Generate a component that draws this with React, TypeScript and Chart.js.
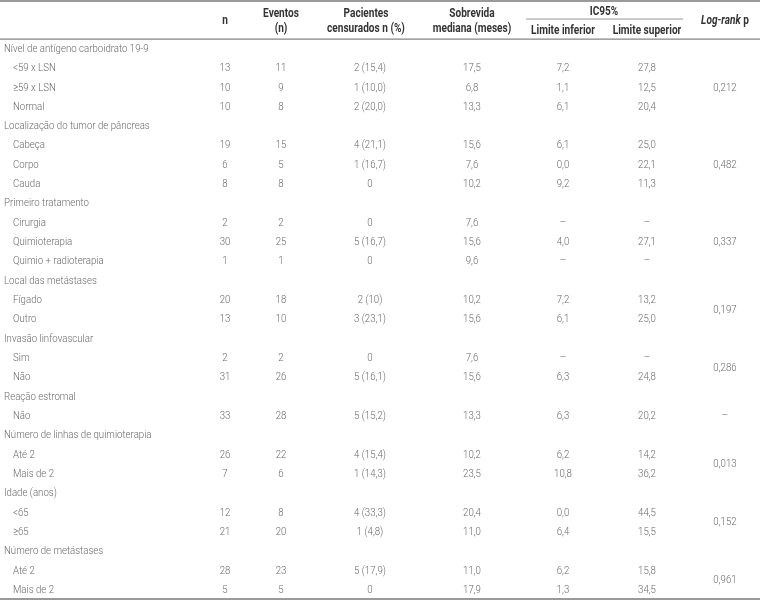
import { useEffect, useRef } from "react";
import { Chart, registerables } from "chart.js";

Chart.register(...registerables);

// ---------- data ----------
const rowLabels = [
  "Nível de antígeno carboidrato 19-9",
  "<59 x LSN",
  "≥59 x LSN",
  "Normal",
  "Localização do tumor de pâncreas",
  "Cabeça",
  "Corpo",
  "Cauda",
  "Primeiro tratamento",
  "Cirurgia",
  "Quimioterapia",
  "Quimio + radioterapia",
  "Local das metástases",
  "Fígado",
  "Outro",
  "Invasão linfovascular",
  "Sim",
  "Não",
  "Reação estromal",
  "Não",
  "Número de linhas de quimioterapia",
  "Até 2",
  "Mais de 2",
  "Idade (anos)",
  "<65",
  "≥65",
  "Número de metástases",
  "Até 2",
  "Mais de 2",
];
const rowIsGroup = [
  true, false, false, false,
  true, false, false, false,
  true, false, false, false,
  true, false, false,
  true, false, false,
  true, false,
  true, false, false,
  true, false, false,
  true, false, false,
];
const nValues = [null, 13, 10, 10, null, 19, 6, 8, null, 2, 30, 1, null, 20, 13, null, 2, 31, null, 33, null, 26, 7, null, 12, 21, null, 28, 5];
const eventosValues = [null, 11, 9, 8, null, 15, 5, 8, null, 2, 25, 1, null, 18, 10, null, 2, 26, null, 28, null, 22, 6, null, 8, 20, null, 23, 5];
const censuradosValues = [
  null, "2 (15,4)", "1 (10,0)", "2 (20,0)",
  null, "4 (21,1)", "1 (16,7)", "0",
  null, "0", "5 (16,7)", "0",
  null, "2 (10)", "3 (23,1)",
  null, "0", "5 (16,1)",
  null, "5 (15,2)",
  null, "4 (15,4)", "1 (14,3)",
  null, "4 (33,3)", "1 (4,8)",
  null, "5 (17,9)", "0",
];
const medianaValues = [null, 17.5, 6.8, 13.3, null, 15.6, 7.6, 10.2, null, 7.6, 15.6, 9.6, null, 10.2, 15.6, null, 7.6, 15.6, null, 13.3, null, 10.2, 23.5, null, 20.4, 11.0, null, 11.0, 17.9];
const icInferiorValues = [null, 7.2, 1.1, 6.1, null, 6.1, 0.0, 9.2, null, "–", 4.0, "–", null, 7.2, 6.1, null, "–", 6.3, null, 6.3, null, 6.2, 10.8, null, 0.0, 6.4, null, 6.2, 1.3];
const icSuperiorValues = [null, 27.8, 12.5, 20.4, null, 25.0, 22.1, 11.3, null, "–", 27.1, "–", null, 13.2, 25.0, null, "–", 24.8, null, 20.2, null, 14.2, 36.2, null, 44.5, 15.5, null, 15.8, 34.5];
const logRankValues = ["0,212", "0,482", "0,337", "0,197", "0,286", "–", "0,013", "0,152", "0,961"];
const logRankRows = [2, 6, 10, 13.5, 16.5, 19, 21.5, 24.5, 27.5];

const headerLines1 = ["n", "Eventos", "Pacientes", "Sobrevida", "IC95%", "Log-rank p"];
const headerLines2 = ["(n)", "censurados n (%)", "mediana (meses)", "Limite inferior", "Limite superior"];

// ---------- layout / style ----------
const W = 760;
const H = 601;
const ROW_MIN = -2.536;
const ROW_MAX = 28.571;
const colX = { label: 4, sub: 13, n: 225, ev: 281, cen: 370, med: 472, inf: 563, sup: 647, lr: 725 };
const FAMILY = 'Roboto, "Liberation Sans", sans-serif';
const BODY_FONT = `300 11.5px ${FAMILY}`;
const HEAD_FONT = `bold 12px ${FAMILY}`;
const HEAD_ITALIC = `italic bold 12px ${FAMILY}`;
const BODY_SCALE = 0.84;
const HEAD_SCALE = 0.84;
const BODY_COLOR = "#6a6a6a";
const HEAD_COLOR = "#333333";

const fmt = (v: any) => (v === null || v === undefined ? "" : typeof v === "number" ? v.toFixed(1).replace(".", ",") : String(v));
const fmtInt = (v: any) => (v === null || v === undefined ? "" : String(v));

const drawText = (ctx: CanvasRenderingContext2D, text: string, x: number, y: number, align: CanvasTextAlign, hs: number) => {
  ctx.save();
  ctx.translate(x, y);
  ctx.scale(hs, 1);
  ctx.textAlign = align;
  ctx.fillText(text, 0, 0);
  ctx.restore();
};

const tablePlugin = {
  id: "tablePlugin",
  afterDatasetsDraw(chart: any) {
    const ctx = chart.ctx as CanvasRenderingContext2D;
    const xs = chart.scales.x;
    const ys = chart.scales.y;
    const X = (v: number) => xs.getPixelForValue(v);
    const Y = (r: number) => ys.getPixelForValue(r);
    ctx.save();

    // rules
    const hline = (y: number, x0: number, x1: number, lw: number, color: string) => {
      ctx.beginPath();
      ctx.strokeStyle = color;
      ctx.lineWidth = lw;
      ctx.moveTo(x0, y);
      ctx.lineTo(x1, y);
      ctx.stroke();
    };
    hline(Y(-2.484), X(0), X(W), 2, "#9a9a9a");
    hline(Y(-0.512), X(0), X(W), 1, "#666666");
    hline(Y(-1.55), X(526), X(683), 1, "#9a9a9a");
    hline(Y(28.465), X(0), X(W), 2, "#9a9a9a");

    // header
    ctx.textBaseline = "middle";
    ctx.fillStyle = HEAD_COLOR;
    ctx.font = HEAD_FONT;
    const r1 = -1.81;
    const r2 = -1.035;
    drawText(ctx, headerLines1[0], X(colX.n), Y(-1.45), "center", HEAD_SCALE);
    drawText(ctx, headerLines1[1], X(colX.ev), Y(r1), "center", HEAD_SCALE);
    drawText(ctx, headerLines2[0], X(colX.ev), Y(r2), "center", HEAD_SCALE);
    drawText(ctx, headerLines1[2], X(366), Y(r1), "center", HEAD_SCALE);
    drawText(ctx, headerLines2[1], X(366), Y(r2), "center", HEAD_SCALE);
    drawText(ctx, headerLines1[3], X(colX.med), Y(r1), "center", HEAD_SCALE);
    drawText(ctx, headerLines2[2], X(colX.med), Y(r2), "center", HEAD_SCALE);
    drawText(ctx, headerLines1[4], X(604), Y(-1.92), "center", HEAD_SCALE);
    drawText(ctx, headerLines2[3], X(colX.inf), Y(-0.93), "center", HEAD_SCALE);
    drawText(ctx, headerLines2[4], X(colX.sup), Y(-0.93), "center", HEAD_SCALE);
    // Log-rank p : italic "Log-rank" + " p"
    const lrA = "Log-rank";
    const lrB = " p";
    ctx.font = HEAD_ITALIC;
    const wa = ctx.measureText(lrA).width * HEAD_SCALE;
    ctx.font = HEAD_FONT;
    const wb = ctx.measureText(lrB).width * HEAD_SCALE;
    const start = X(colX.lr) - (wa + wb) / 2;
    ctx.font = HEAD_ITALIC;
    drawText(ctx, lrA, start, Y(-1.45), "left", HEAD_SCALE);
    ctx.font = HEAD_FONT;
    drawText(ctx, lrB, start + wa, Y(-1.45), "left", HEAD_SCALE);

    // body
    ctx.font = BODY_FONT;
    ctx.fillStyle = BODY_COLOR;
    rowLabels.forEach((label, i) => {
      const y = Y(i);
      drawText(ctx, label, X(rowIsGroup[i] ? colX.label : colX.sub), y, "left", BODY_SCALE);
      drawText(ctx, fmtInt(nValues[i]), X(colX.n), y, "center", BODY_SCALE);
      drawText(ctx, fmtInt(eventosValues[i]), X(colX.ev), y, "center", BODY_SCALE);
      drawText(ctx, fmtInt(censuradosValues[i]), X(colX.cen), y, "center", BODY_SCALE);
      drawText(ctx, fmt(medianaValues[i]), X(colX.med), y, "center", BODY_SCALE);
      drawText(ctx, fmt(icInferiorValues[i]), X(colX.inf), y, "center", BODY_SCALE);
      drawText(ctx, fmt(icSuperiorValues[i]), X(colX.sup), y, "center", BODY_SCALE);
    });
    logRankValues.forEach((v, k) => {
      drawText(ctx, v, X(colX.lr), Y(logRankRows[k]), "center", BODY_SCALE);
    });
    ctx.restore();
  },
};

export default function App() {
  const ref = useRef<HTMLCanvasElement | null>(null);
  useEffect(() => {
    if (!ref.current) return;
    const points: { x: number; y: number }[] = [];
    rowLabels.forEach((_, i) => {
      if (nValues[i] !== null) {
        [colX.n, colX.ev, colX.cen, colX.med, colX.inf, colX.sup].forEach((x) => points.push({ x, y: i }));
      }
    });
    const chart = new Chart(ref.current, {
      type: "scatter",
      data: {
        datasets: [
          {
            data: points,
            pointRadius: 0,
            pointHoverRadius: 0,
            backgroundColor: "rgba(0,0,0,0)",
            borderColor: "rgba(0,0,0,0)",
          },
        ],
      },
      options: {
        animation: false,
        responsive: false,
        maintainAspectRatio: false,
        events: [],
        layout: { padding: 0 },
        plugins: { legend: { display: false }, tooltip: { enabled: false } },
        scales: {
          x: { type: "linear", display: false, min: 0, max: W },
          y: { type: "linear", display: false, reverse: true, min: ROW_MIN, max: ROW_MAX },
        },
      },
      plugins: [tablePlugin],
    });
    return () => chart.destroy();
  }, []);
  return (
    <div style={{ position: "fixed", left: 0, top: 0, width: W, height: H, background: "#fff" }}>
      <canvas ref={ref} width={W} height={H} style={{ display: "block", width: W, height: H }} />
    </div>
  );
}
